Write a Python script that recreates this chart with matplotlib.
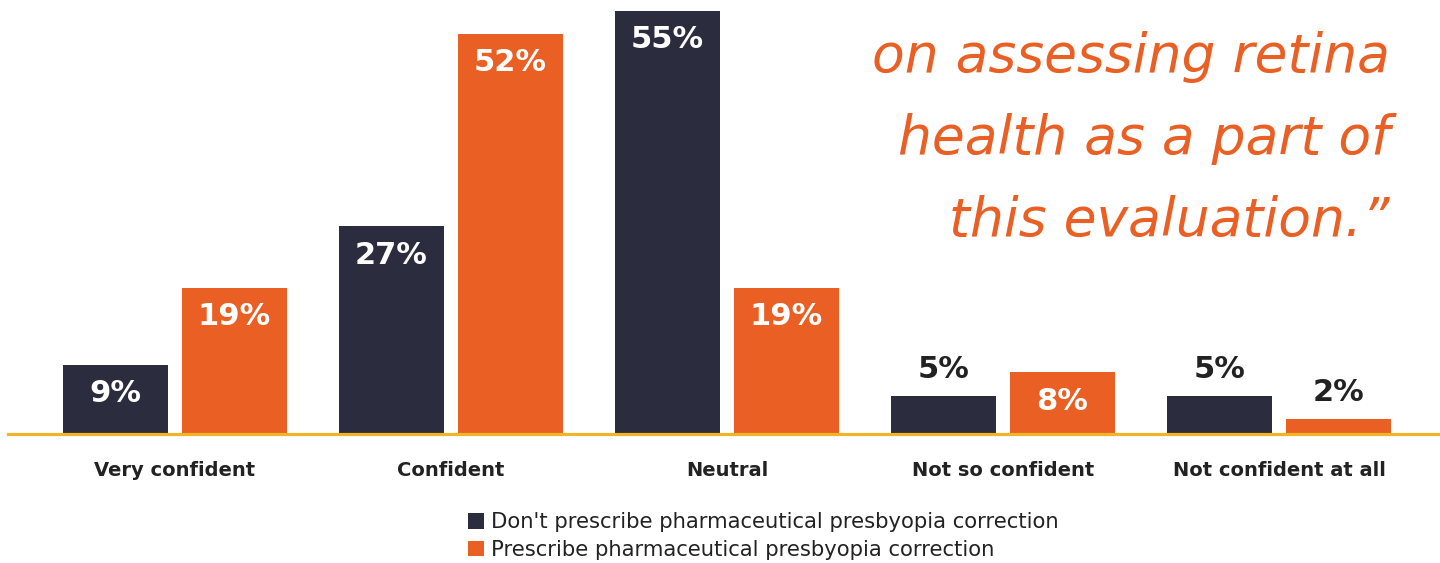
import matplotlib
matplotlib.use("Agg")
import matplotlib.pyplot as plt
from matplotlib.patches import Patch
import numpy as np

categories = ["Very confident", "Confident", "Neutral", "Not so confident", "Not confident at all"]
dont_prescribe = [9, 27, 55, 5, 5]
prescribe = [19, 52, 19, 8, 2]
series_names = ["Don't prescribe pharmaceutical presbyopia correction",
                "Prescribe pharmaceutical presbyopia correction"]
quote_lines = ["on assessing retina", "health as a part of", "this evaluation.\u201d"]

DARK = "#2c2c3f"
ORANGE = "#e95f24"
GOLD = "#f0b429"
TEXT = "#222222"

W, H = 1440, 563
fig = plt.figure(figsize=(W / 100, H / 100), dpi=100)
fig.patch.set_facecolor("white")

base_px = 434
ax = fig.add_axes([8 / W, (H - base_px) / H, (W - 8) / W, base_px / H])
px_per_unit = 7.7
ax.set_ylim(0, base_px / px_per_unit)
step = 276.0
c0 = 175.0
ax.set_xlim((8 - c0) / step, (W - c0) / step)

x = np.arange(len(categories))
width = 105 / step
off = 59.5 / step
b1 = ax.bar(x - off, dont_prescribe, width, color=DARK, zorder=2)
b2 = ax.bar(x + off, prescribe, width, color=ORANGE, zorder=2)

for s in ["top", "right", "left"]:
    ax.spines[s].set_visible(False)
ax.spines["bottom"].set_color(GOLD)
ax.spines["bottom"].set_linewidth(2.3)
ax.spines["bottom"].set_zorder(3)
ax.set_xticks([])
ax.set_yticks([])

label_font = dict(family=["DejaVu Sans"], fontweight="bold", fontsize=22)
for bars, vals in ((b1, dont_prescribe), (b2, prescribe)):
    for rect, v in zip(bars, vals):
        cx = rect.get_x() + rect.get_width() / 2
        if v < 6:
            ax.annotate(f"{v}%", (cx, v), xytext=(0, 26 * 0.72), textcoords="offset points",
                        ha="center", va="center", color=TEXT, **label_font)
        else:
            ax.annotate(f"{v}%", (cx, v), xytext=(0, -29 * 0.72), textcoords="offset points",
                        ha="center", va="center", color="white", **label_font)

for xi, cat in zip(x, categories):
    ax.annotate(cat, (xi, 0), xycoords=("data", "axes fraction"), xytext=(0, -37 * 0.72),
                textcoords="offset points", ha="center", va="center", color=TEXT,
                family=["DejaVu Sans"], fontweight="bold", fontsize=14,
                annotation_clip=False)

# quote text
for i, line in enumerate(quote_lines):
    fig.text(1390 / W, 1 - (72 + 82 * i) / H, line, ha="right", va="baseline",
             color=ORANGE, family=["DejaVu Sans"], fontweight="normal",
             style="oblique", fontsize=38.5)

handles = [Patch(facecolor=DARK, edgecolor="none"), Patch(facecolor=ORANGE, edgecolor="none")]
leg = fig.legend(handles, series_names, loc="center left",
                 bbox_to_anchor=(468 / W, 1 - 536 / H), frameon=False,
                 prop=dict(family=["DejaVu Sans"], size=15.2),
                 handlelength=0.75, handleheight=0.75, handletextpad=0.35, labelspacing=0.36,
                 borderpad=0, borderaxespad=0)
for t in leg.get_texts():
    t.set_color(TEXT)

fig.savefig("out.png", dpi=100, facecolor="white")
